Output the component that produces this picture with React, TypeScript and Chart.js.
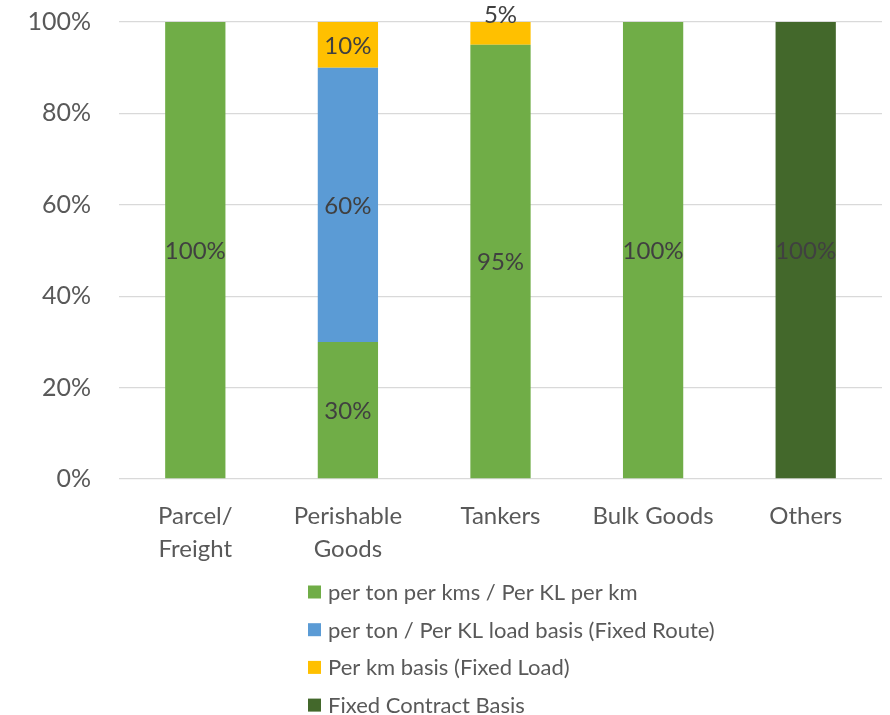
import React, { useEffect, useRef } from "react";
import { Chart, registerables } from "chart.js";

Chart.register(...registerables);

const categories: (string | string[])[] = [["Parcel/", "Freight"], ["Perishable", "Goods"], "Tankers", "Bulk Goods", "Others"];
const seriesNames = [
  "per ton per kms / Per KL per km",
  "per ton / Per KL load basis (Fixed Route)",
  "Per km basis (Fixed Load)",
  "Fixed Contract Basis",
];
const perTonPerKm = [100, 30, 95, 100, 0];
const perTonLoadBasis = [0, 60, 0, 0, 0];
const perKmBasis = [0, 10, 5, 0, 0];
const fixedContract = [0, 0, 0, 0, 100];
const yTicks = [0, 20, 40, 60, 80, 100];
const colors = ["#70AD47", "#5B9BD5", "#FFC000", "#43682B"];

const FONT = "Lato, 'Open Sans', sans-serif";

const labelPlugin = {
  id: "segLabels",
  afterDatasetsDraw(chart: any) {
    const ctx = chart.ctx;
    ctx.save();
    ctx.font = `24px ${FONT}`;
    ctx.fillStyle = "#404040";
    ctx.textAlign = "center";
    ctx.textBaseline = "middle";
    chart.data.datasets.forEach((ds: any, di: number) => {
      const meta = chart.getDatasetMeta(di);
      meta.data.forEach((el: any, i: number) => {
        const v = ds.data[i];
        if (!v) return;
        const { x, y, base } = el.getProps(["x", "y", "base"], true);
        const h = Math.abs(base - y);
        let cy = (y + base) / 2;
        if (h < 30) cy = Math.min(y, base) - 8;
        ctx.fillText(v + "%", x, cy + 1);
      });
    });
    ctx.restore();
  },
};

const legendPlugin = {
  id: "vertLegend",
  afterDraw(chart: any) {
    const ctx = chart.ctx;
    ctx.save();
    ctx.font = `22px ${FONT}`;
    ctx.textBaseline = "middle";
    ctx.textAlign = "left";
    const startY = 592;
    const step = 37.7;
    chart.data.datasets.forEach((ds: any, i: number) => {
      const cy = startY + i * step;
      ctx.fillStyle = ds.backgroundColor;
      ctx.fillRect(308, cy - 6.5, 13, 13);
      ctx.fillStyle = "#595959";
      ctx.fillText(ds.label, 328, cy + 1);
    });
    ctx.restore();
  },
};

export default function App() {
  const ref = useRef<HTMLCanvasElement>(null);
  useEffect(() => {
    document.body.style.margin = "0";
    const chart = new Chart(ref.current!, {
      type: "bar",
      data: {
        labels: categories,
        datasets: [
          { label: seriesNames[0], data: perTonPerKm, backgroundColor: colors[0] },
          { label: seriesNames[1], data: perTonLoadBasis, backgroundColor: colors[1] },
          { label: seriesNames[2], data: perKmBasis, backgroundColor: colors[2] },
          { label: seriesNames[3], data: fixedContract, backgroundColor: colors[3] },
        ],
      },
      options: {
        responsive: false,
        animation: false,
        layout: { padding: { top: 22, right: 8, bottom: 146, left: 0 } },
        datasets: { bar: { categoryPercentage: 1, barPercentage: 0.395 } } as any,
        plugins: { legend: { display: false }, tooltip: { enabled: false } },
        scales: {
          x: {
            stacked: true,
            grid: { display: false },
            border: { display: false },
            ticks: {
              color: "#595959",
              font: { family: FONT, size: 24, lineHeight: 1.375 },
              padding: 13,
              maxRotation: 0,
              autoSkip: false,
            },
            afterFit: (s: any) => { s.height = 90; s.paddingTop = 0; s.paddingBottom = 0; },
          },
          y: {
            stacked: true,
            min: 0,
            max: 100,
            afterBuildTicks: (s: any) => { s.ticks = yTicks.map((v) => ({ value: v })); },
            grid: { color: "#D9D9D9", lineWidth: 1.3, drawTicks: false },
            border: { display: false },
            ticks: {
              color: "#595959",
              font: { family: FONT, size: 25 },
              padding: 28,
              callback: (v: any) => v + "%",
            },
            afterFit: (s: any) => { s.width = 119; s.paddingTop = 0; s.paddingBottom = 0; },
          },
        },
      },
      plugins: [labelPlugin, legendPlugin],
    });
    return () => chart.destroy();
  }, []);
  return (
    <div style={{ width: 890, height: 715 }}>
      <canvas ref={ref} width={890} height={715} />
    </div>
  );
}
